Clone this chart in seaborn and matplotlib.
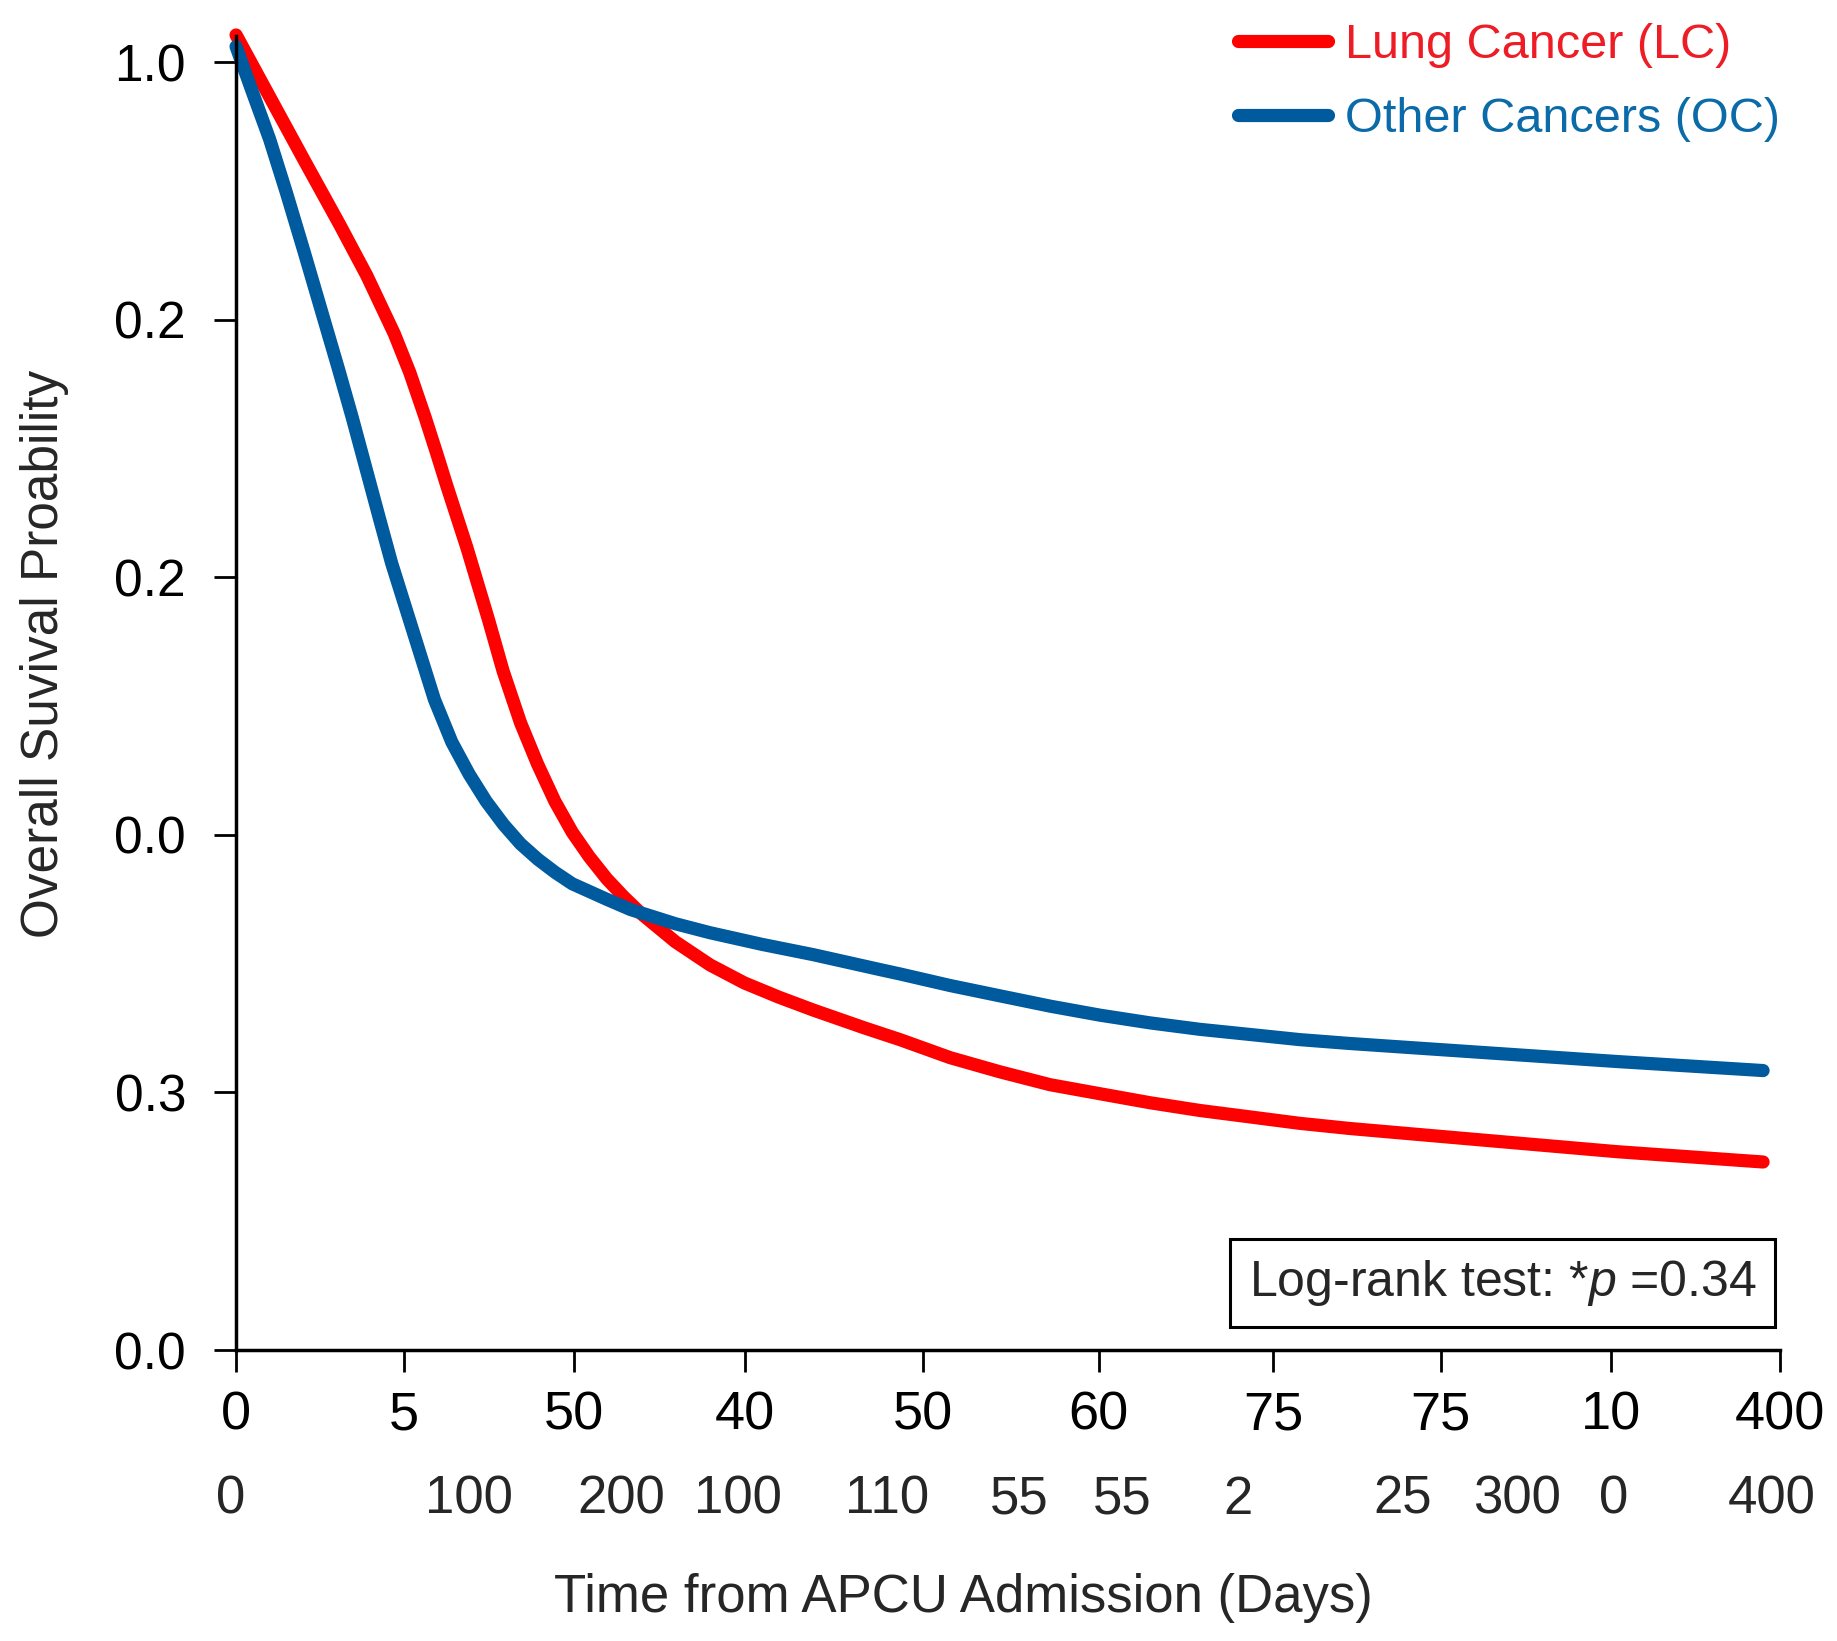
import numpy as np
import pandas as pd
import matplotlib
matplotlib.use("Agg")
import matplotlib.pyplot as plt
from matplotlib.lines import Line2D
from matplotlib.patches import Rectangle
import matplotlib.transforms as mtransforms
import seaborn as sns

# curve values (days, survival)
lc_days = [0, 8.7, 17.6, 26.8, 33.9, 41.0, 45.0, 49.0, 52.0, 54.6, 57.2, 59.8, 62.6,
           65.4, 69.2, 73.7, 78.1, 82.6, 87.1, 91.5, 96.0, 100.4, 104.9, 113.8,
           122.8, 131.7, 140.6, 149.5, 162.9, 172.0, 185.0, 197.9, 210.9, 223.8,
           236.8, 249.7, 262.7, 275.6, 288.6, 323.1, 357.8, 395.6]
lc_surv = [1.021, 0.973, 0.924, 0.874, 0.834, 0.789, 0.759, 0.724, 0.696, 0.671, 0.647, 0.623, 0.595,
           0.567, 0.527, 0.487, 0.455, 0.426, 0.402, 0.383, 0.366, 0.352, 0.339, 0.317,
           0.299, 0.285, 0.274, 0.264, 0.250, 0.241, 0.227, 0.216, 0.206, 0.199,
           0.192, 0.186, 0.181, 0.176, 0.172, 0.163, 0.154, 0.146]

oc_days = [0, 4.2, 8.7, 13.1, 17.6, 22.0, 26.5, 30.1, 33.7, 37.2, 40.3,
           47.0, 51.4, 55.9, 60.4, 64.8, 69.3, 73.7, 78.2, 82.6, 87.1, 96.0, 102.2,
           113.8, 122.8, 136.2, 149.5, 167.4, 172.0, 185.0, 197.9, 210.9, 223.8,
           236.8, 249.7, 262.7, 275.6, 288.6, 323.1, 357.8, 395.6]
oc_surv = [1.012, 0.977, 0.940, 0.898, 0.853, 0.808, 0.762, 0.724, 0.684, 0.645, 0.611,
           0.547, 0.505, 0.472, 0.447, 0.426, 0.408, 0.393, 0.381, 0.371, 0.362, 0.350, 0.342,
           0.331, 0.324, 0.315, 0.307, 0.295, 0.292, 0.283, 0.275, 0.267, 0.260,
           0.254, 0.249, 0.245, 0.241, 0.238, 0.231, 0.224, 0.217]

groups = ["Lung Cancer (LC)", "Other Cancers (OC)"]
line_colors = ["#FF0000", "#005A9E"]
text_colors = ["#EE1C25", "#0B6BA8"]

# axis labels as printed in the figure
x_ticks = [0, 43.6, 87.6, 131.9, 178.0, 223.5, 268.7, 312.1, 356.2, 400]
x_labels = ["0", "5", "50", "40", "50", "60", "75", "75", "10", "400"]
y_ticks = [0.0, 0.2, 0.4, 0.6, 0.8, 1.0]
y_labels = ["0.0", "0.3", "0.0", "0.2", "0.2", "1.0"]

# second row of numbers under the axis
risk_pos = [-1.3, 60.3, 99.7, 130.1, 168.6, 202.9, 229.6, 259.7, 302.2, 331.9, 356.8, 397.8]
risk_labels = ["0", "100", "200", "100", "110", "55", "55", "2", "25", "300", "0", "400"]

df = pd.concat([
    pd.DataFrame({"days": lc_days, "surv": lc_surv, "group": groups[0]}),
    pd.DataFrame({"days": oc_days, "surv": oc_surv, "group": groups[1]}),
])

sns.set_style("ticks")
plt.rcParams["font.family"] = ["Liberation Sans", "DejaVu Sans"]
plt.rcParams["mathtext.fontset"] = "custom"
plt.rcParams["mathtext.rm"] = "Liberation Sans"
plt.rcParams["mathtext.it"] = "Liberation Sans:italic"

fig = plt.figure(figsize=(18.37, 16.41), dpi=100)
ax = fig.add_axes([0.1285, 0.1773, 0.8405, 0.8006])

sns.lineplot(data=df, x="days", y="surv", hue="group", palette=line_colors,
             sort=False, estimator=None, linewidth=9.5, legend=False, ax=ax)
for ln in ax.lines:
    ln.set_clip_on(False)
    ln.set_solid_capstyle("round")
    ln.set_solid_joinstyle("round")

ax.set_xlim(0, 400)
ax.set_ylim(0, 1.02)
ax.set_xticks(x_ticks)
ax.set_xticklabels(x_labels, fontsize=39)
ax.set_yticks(y_ticks)
ax.set_yticklabels(y_labels, fontsize=37)
ax.tick_params(axis="x", length=16, width=2, pad=13, colors="black")
ax.tick_params(axis="y", length=16, width=2, pad=20, colors="black")
sns.despine(ax=ax)
for s in ["left", "bottom"]:
    ax.spines[s].set_linewidth(2.5)
    ax.spines[s].set_color("black")

ax.set_xlabel("Time from APCU Admission (Days)", fontsize=38)
ax.xaxis.set_label_coords(0.471, -0.170)
ax.set_ylabel("Overall Suvival Proability", fontsize=37)
ax.yaxis.set_label_coords(-0.108, 0.53)

trans = mtransforms.blended_transform_factory(ax.transData, ax.transAxes)
for pos, lab in zip(risk_pos, risk_labels):
    ax.text(pos, -0.114, lab, transform=trans, ha="center", va="center",
            fontsize=38, clip_on=False)

# log-rank box
ax.add_patch(Rectangle((0.6438, 0.0175), 0.353, 0.067, transform=ax.transAxes,
                       fill=False, edgecolor="black", linewidth=2.2))
ax.text(0.8203, 0.051, "Log-rank test: *$p$ =0.34", transform=ax.transAxes,
        ha="center", va="center", fontsize=36)

handles = [Line2D([0], [0], color=c, linewidth=9.5, solid_capstyle="round") for c in line_colors]
leg = fig.legend(handles, groups, loc="upper left", bbox_to_anchor=(0.674, 0.986),
                 frameon=False, fontsize=35, handlelength=1.85, handletextpad=0.35,
                 labelspacing=0.6, borderpad=0, borderaxespad=0, labelcolor=text_colors)

fig.savefig("out.png", dpi=100, facecolor="white")
plt.close(fig)
